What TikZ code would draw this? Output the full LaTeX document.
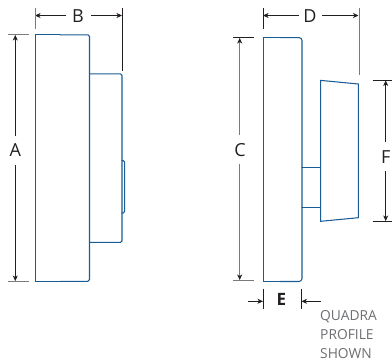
\documentclass[tikz,border=0pt]{standalone}
\usepackage{fontspec}
\setmainfont{Open Sans}
\usetikzlibrary{arrows.meta}
\definecolor{outl}{HTML}{1A5C96}
\definecolor{ink}{HTML}{231F20}
\definecolor{capt}{HTML}{6D6E71}
\tikzset{
  x=1pt,y=-1pt,
  body/.style={draw=outl,line width=1.05pt,line join=miter,line cap=round},
  round1/.style={body,rounded corners=1.6pt},
  round2/.style={body,rounded corners=3pt},
  tickline/.style={draw=ink,line width=.7pt},
  gtick/.style={draw=ink!60,line width=1pt},
  dimline/.style={draw=ink,line width=.75pt,-{Stealth[length=5.5pt,width=5pt,inset=1.6pt]}},
  gdim/.style={draw=ink!60,line width=1pt,-{Stealth[length=5.5pt,width=5pt,inset=1.6pt,color=ink]}},
  lab/.style={font=\fontsize{18}{18}\selectfont,text=ink,inner sep=0pt},
  captiontext/.style={font=\fontsize{13.8}{18.9}\selectfont,text=capt,inner sep=0pt,anchor=north west,align=left}
}
\begin{document}
\begin{tikzpicture}
\useasboundingbox (0,0) rectangle (392,364);
% left profile
\draw[body] (60,34.8) -- (35.3,34.8) -- (35.3,281.3) -- (60,281.3);
\draw[round1] (60,34.8) -- (89.5,34.8) -- (89.5,281.3) -- (60,281.3);
\draw[round1] (89.5,73.8) -- (122,73.8) -- (122,242.4) -- (89.5,242.4);
\draw[round1] (122,160.5) -- (124.7,160.5) -- (124.7,213) -- (122,213);
% right profile
\draw[body] (280,37.6) -- (263.5,37.6) -- (263.5,281.5) -- (280,281.5);
\draw[round2] (280,37.6) -- (302,37.6) -- (302,281.5) -- (280,281.5);
\draw[body] (302,167.5) -- (320.7,167.5) (302,207.5) -- (320.7,207.5);
\draw[body] (320.7,80.4) -- (358.3,84) -- (358.3,217.7) -- (320.7,221.3) -- cycle;
% coordinates
\coordinate (atop) at (15.3,35); \coordinate (abot) at (15.3,281);
\coordinate (bl) at (35,15.5); \coordinate (br) at (122,15.5);
\coordinate (ctop) at (239.7,38); \coordinate (cbot) at (239.7,280);
\coordinate (dl) at (263,15.5); \coordinate (dr) at (358.5,15.5);
\coordinate (ftop) at (385.7,80.5); \coordinate (fbot) at (385.7,221);
\coordinate (eal) at (263,301.3); \coordinate (ear) at (301.5,301.3);
\coordinate (eol) at (248,301.3); \coordinate (eor) at (321,301.3);
% labels
\node[lab] (A) at (15.3,150.5) {A};
\node[lab] (B) at (78,16) {B};
\node[lab] (C) at (240,150.5) {C};
\node[lab] (D) at (310,16) {D};
\node[lab] (F) at (385.7,157.5) {F};
\node[lab,font=\fontsize{17}{17}\selectfont\bfseries] (E) at (281.5,299.5) {E};
\node[captiontext] (Q) at (320,310.5) {QUADRA\\PROFILE\\SHOWN};
% dimension lines
\draw[dimline] (15.3,136) -- (atop);
\draw[dimline] (15.3,165) -- (abot);
\draw[dimline] (66,15.5) -- (bl);
\draw[dimline] (91,15.5) -- (br);
\draw[gdim] (239.7,135) -- (ctop);
\draw[gdim] (239.7,164) -- (cbot);
\draw[dimline] (299,15.5) -- (dl);
\draw[dimline] (322,15.5) -- (dr);
\draw[dimline] (385.7,142) -- (ftop);
\draw[dimline] (385.7,171) -- (fbot);
\draw[dimline] (eol) -- (eal);
\draw[dimline] (eor) -- (ear);
% ticks
\draw[gtick] (8,34.8) -- (29,34.8) (8,281) -- (29,281);
\draw[gtick] (35,8) -- (35,29);
\draw[tickline] (122,8) -- (122,71);
\draw[tickline] (233,37.5) -- (253.5,37.5);
\draw[gtick] (233,280) -- (253.5,280);
\draw[tickline] (263,8) -- (263,29);
\draw[gtick] (359,8) -- (359,75);
\draw[tickline] (372.5,80.4) -- (392,80.4) (372.5,221.3) -- (392,221.3);
\draw[tickline] (263,288.7) -- (263,308.7) (301.5,288.7) -- (301.5,308.7);
\end{tikzpicture}
\end{document}
